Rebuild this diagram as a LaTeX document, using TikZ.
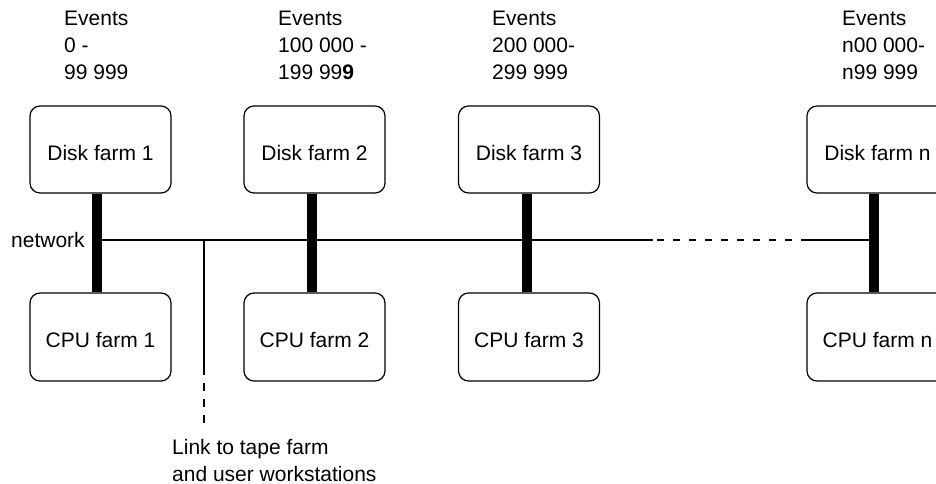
\documentclass[tikz,border=0pt]{standalone}
\usepackage{fontspec}
\setmainfont{Liberation Sans}
\usetikzlibrary{calc}
\begin{document}
\begin{tikzpicture}[x=1pt,y=-1pt,
  farmbox/.style={draw,line width=1.2pt,rounded corners=10pt,minimum width=141pt,
    minimum height=87pt,inner sep=0pt,text height=21pt,text depth=0pt,
    font=\fontsize{21}{27}\selectfont},
  txt/.style={inner sep=0pt,anchor=base west,align=left,
    font=\fontsize{21}{27}\selectfont},
  bus/.style={line width=10pt},
  netline/.style={line width=2.4pt},
  netdash/.style={line width=2.4pt,dash pattern=on 7pt off 9pt},
  linkdash/.style={line width=2.4pt,dash pattern=on 8pt off 8pt}]
\useasboundingbox (0,0) rectangle (936,484);

% storage and processing farms
\node[farmbox] (d1) at (100.5,149.5) {Disk farm 1};
\node[farmbox] (d2) at (314.5,149.5) {Disk farm 2};
\node[farmbox] (d3) at (529,149.5) {Disk farm 3};
\node[farmbox] (dn) at (877.5,149.5) {Disk farm n};
\node[farmbox,minimum height=88pt] (c1) at (100.5,337) {CPU farm 1};
\node[farmbox,minimum height=88pt] (c2) at (314.5,337) {CPU farm 2};
\node[farmbox,minimum height=88pt] (c3) at (529,337) {CPU farm 3};
\node[farmbox,minimum height=88pt] (cn) at (877.5,337) {CPU farm n};

% event ranges above each disk farm (anchored on the last line)
\node[txt] (e1) at (64,80) {Events\\0 -\\99 999};
\node[txt] (e2) at (278,80) {Events\\100 000 -\\199 99\textbf{9}};
\node[txt] (e3) at (492,80) {Events\\200 000-\\299 999};
\node[txt] (en) at (842,80) {Events\\n00 000-\\n99 999};

% vertical links between disk and CPU farms
\draw[bus] ([xshift=-3.5pt]d1.south) -- ([xshift=-3.5pt]c1.north);
\draw[bus] ([xshift=-2.5pt]d2.south) -- ([xshift=-2.5pt]c2.north);
\draw[bus] ([xshift=-2pt]d3.south) -- ([xshift=-2pt]c3.north);
\draw[bus] ([xshift=-3.5pt]dn.south) -- ([xshift=-3.5pt]cn.north);

% network backbone
\coordinate (row) at (0,240);
\coordinate (gapL) at (653,240);
\coordinate (gapR) at (807,240);
\draw[netline] ([xshift=-3.5pt]d1.south |- row) -- (gapL);
\draw[netdash] ([xshift=4pt]gapL) -- (gapR);
\draw[netline] (gapR) -- ([xshift=-3.5pt]dn.south |- row);
\node[txt] (netlabel) at (11,247) {network};

% link to tape farm
\coordinate (tapT) at (204,240);
\coordinate (tapM) at (204,368);
\coordinate (tapB) at (204,425);
\draw[netline] (tapT) -- (tapM);
\draw[linkdash] ([yshift=1pt]tapM) -- (tapB);
\node[txt] (linklabel) at (172,481) {Link to tape farm\\and user workstations};
\end{tikzpicture}
\end{document}
